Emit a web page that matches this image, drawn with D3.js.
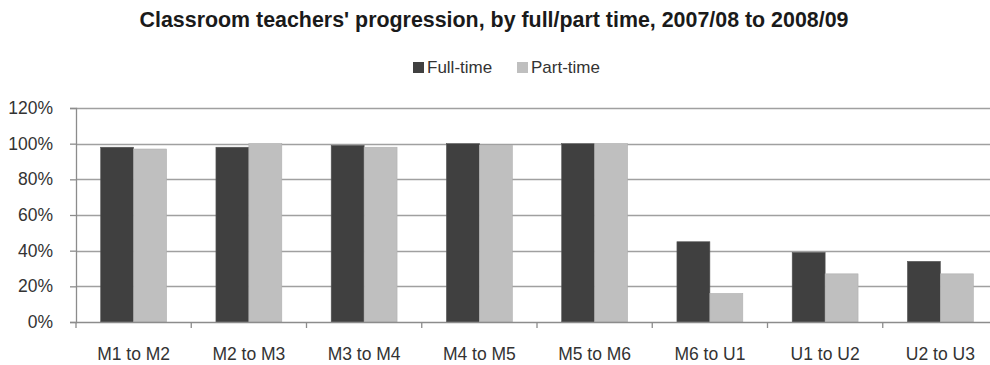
<!DOCTYPE html>
<html>
<head>
<meta charset="utf-8">
<script src="https://cdn.jsdelivr.net/npm/d3@7/dist/d3.min.js"></script>
<style>
  html, body { margin: 0; padding: 0; background: #fff; }
  svg { display: block; font-family: "Liberation Sans", Arial, sans-serif; }
</style>
</head>
<body>
<div id="chart"></div>
<script>
// Progression grades and share of teachers who progressed (%)
const categories = ["M1 to M2", "M2 to M3", "M3 to M4", "M4 to M5", "M5 to M6", "M6 to U1", "U1 to U2", "U2 to U3"];
const fullTime = [98, 98, 99, 100, 100, 45, 39, 34];
const partTime = [97, 100, 98, 99, 100, 16, 27, 27];
const seriesNames = ["Full-time", "Part-time"];
const yTicks = [0, 20, 40, 60, 80, 100, 120];
const titleText = "Classroom teachers' progression, by full/part time, 2007/08 to 2008/09";

const W = 990, H = 365;
const margin = { left: 76, right: -8, top: 108, bottom: 43 };
const colors = { "Full-time": "#404040", "Part-time": "#bfbfbf" };

const svg = d3.select("#chart").append("svg")
  .attr("width", W).attr("height", H);

const x0 = d3.scaleBand()
  .domain(categories)
  .range([margin.left, W - margin.right]);

// Excel-style gap width: bar pair takes 2 of 3.5 bar widths
const barW = x0.bandwidth() / 3.5;
const x1 = d3.scaleBand()
  .domain(seriesNames)
  .range([0, barW * 2]);

const y = d3.scaleLinear()
  .domain([0, 120])
  .range([H - margin.bottom, margin.top]);

// Gridlines
svg.append("g")
  .selectAll("line")
  .data(yTicks.filter(d => d > 0))
  .join("line")
  .attr("x1", margin.left).attr("x2", W - margin.right)
  .attr("y1", d => Math.round(y(d)) + 0.5).attr("y2", d => Math.round(y(d)) + 0.5)
  .attr("stroke", "#a0a0a0").attr("stroke-width", 1.3);

// Bars
const rows = categories.map((c, i) => ({ cat: c, vals: [
  { key: "Full-time", v: fullTime[i] },
  { key: "Part-time", v: partTime[i] }
]}));

svg.append("g")
  .selectAll("g")
  .data(rows)
  .join("g")
  .attr("transform", d => `translate(${x0(d.cat) + (x0.bandwidth() - barW * 2) / 2},0)`)
  .selectAll("rect")
  .data(d => d.vals)
  .join("rect")
  .attr("x", d => x1(d.key))
  .attr("width", x1.bandwidth())
  .attr("y", d => y(d.v))
  .attr("height", d => y(0) - y(d.v))
  .attr("fill", d => colors[d.key])
  .attr("stroke", d => d.key === "Full-time" ? "#555" : "#b0b0b0")
  .attr("stroke-width", 0.6);

// Y axis
const yAxis = d3.axisLeft(y)
  .tickValues(yTicks)
  .tickFormat(d => d + "%")
  .tickSize(6)
  .tickPadding(17);
const gy = svg.append("g")
  .attr("transform", `translate(${margin.left},0)`)
  .call(yAxis);
gy.select(".domain").attr("stroke", "#8c8c8c").attr("stroke-width", 1.3);
gy.selectAll(".tick line").attr("stroke", "#8c8c8c").attr("stroke-width", 1.3);
gy.selectAll(".tick text")
  .attr("fill", "#333").style("font-size", "17.5px");

// X axis with ticks on category boundaries
const gx = svg.append("g")
  .attr("transform", `translate(0,${y(0)})`);
gx.append("line")
  .attr("x1", margin.left).attr("x2", W - margin.right)
  .attr("y1", 0.5).attr("y2", 0.5)
  .attr("stroke", "#8c8c8c").attr("stroke-width", 1.3);
gx.selectAll("line.tk")
  .data(categories)
  .join("line")
  .attr("class", "tk")
  .attr("x1", d => x0(d)).attr("x2", d => x0(d))
  .attr("y1", 0).attr("y2", 6)
  .attr("stroke", "#8c8c8c").attr("stroke-width", 1.3);
gx.selectAll("text")
  .data(categories)
  .join("text")
  .attr("x", d => x0(d) + x0.bandwidth() / 2)
  .attr("y", 38)
  .attr("text-anchor", "middle")
  .attr("fill", "#333")
  .style("font-size", "17.5px")
  .text(d => d);

// Title
svg.append("text")
  .attr("x", 494).attr("y", 27)
  .attr("text-anchor", "middle")
  .attr("fill", "#1a1a1a")
  .style("font-size", "21.4px").style("font-weight", "bold")
  .text(titleText);

// Legend
const legendPos = [413, 517];
const lg = svg.append("g").selectAll("g")
  .data(seriesNames)
  .join("g")
  .attr("transform", (d, i) => `translate(${legendPos[i]},62)`);
lg.append("rect")
  .attr("width", 11).attr("height", 11)
  .attr("fill", d => colors[d]);
lg.append("text")
  .attr("x", 14).attr("y", 11)
  .attr("fill", "#333")
  .style("font-size", "17px")
  .text(d => d);
</script>
</body>
</html>
